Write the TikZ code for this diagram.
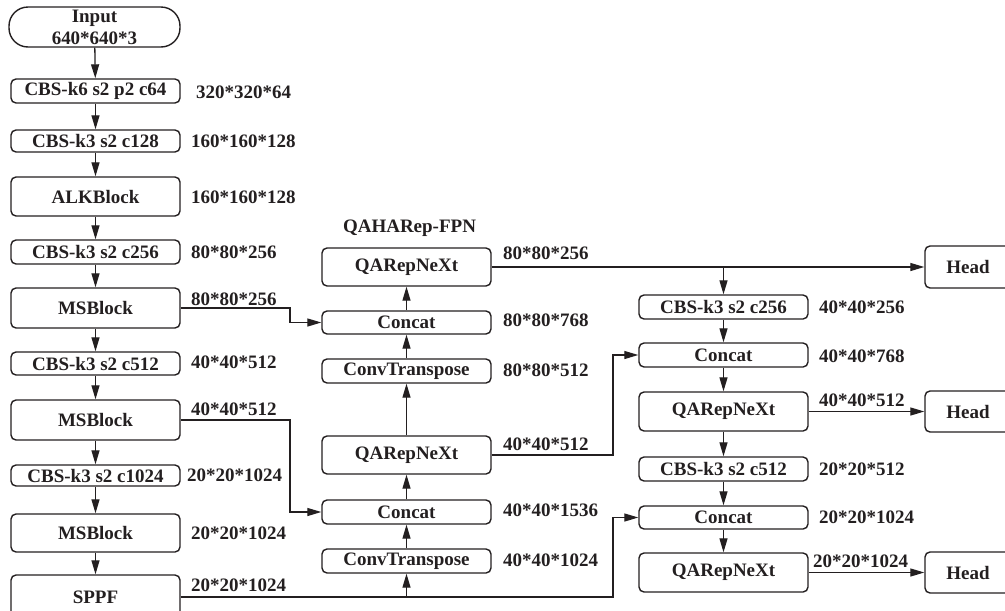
\documentclass[tikz,border=0pt]{standalone}
\usepackage{fontspec}
\setmainfont{Liberation Serif}
\usetikzlibrary{arrows.meta}
\definecolor{ink}{HTML}{231F20}
\newcommand\mybox[6]{%
  \node[blk, minimum width={#4-#2}, minimum height={#5-#3}] (#1) at ({(#2+#4)/2},{(#3+#5)/2}) {#6};}
\newcommand\mylbl[3]{\node[lbl] at (#1,#2) {#3};}
\begin{document}
\begin{tikzpicture}[x=1pt,y=-1pt,
  txt/.style={font=\fontsize{19}{22}\selectfont\bfseries, text=ink},
  blk/.style={draw=ink, line width=1.4pt, rounded corners=5pt, inner sep=0pt, txt},
  lbl/.style={anchor=west, inner sep=0pt, txt},
  arr/.style={draw=ink, line width=1.3pt, -{Triangle[length=14pt,width=8pt]}}]
\useasboundingbox (0,0) rectangle (1005,611);
\clip (0,0) rectangle (1005,611);
% left column
\node[blk, rounded corners=19pt, minimum width=171, minimum height=40, align=center] (in) at (94.5,27) {Input\\640*640*3};
\mybox{c1}{11}{79}{180}{103}{CBS-k6 s2 p2 c64}
\mybox{c2}{11}{130}{180}{152}{CBS-k3 s2 c128}
\mybox{alk}{11}{177}{180}{216}{ALKBlock}
\mybox{c3}{11}{240}{180}{264}{CBS-k3 s2 c256}
\mybox{ms1}{11}{288}{180}{328}{MSBlock}
\mybox{c4}{11}{352}{180}{375}{CBS-k3 s2 c512}
\mybox{ms2}{11}{400}{180}{440}{MSBlock}
\mybox{c5}{11}{465}{180}{486}{CBS-k3 s2 c1024}
\mybox{ms3}{11}{514}{180}{552}{MSBlock}
\mybox{sppf}{11}{575}{180}{619}{SPPF}
\mylbl{196}{92}{320*320*64}
\mylbl{191}{141}{160*160*128}
\mylbl{191}{197}{160*160*128}
\mylbl{191}{252}{80*80*256}
\mylbl{191}{299.5}{80*80*256}
\mylbl{191}{362}{40*40*512}
\mylbl{191}{409.5}{40*40*512}
\mylbl{187}{475}{20*20*1024}
\mylbl{191}{533.5}{20*20*1024}
\mylbl{191}{585.5}{20*20*1024}
% middle column
\node[txt, inner sep=0pt] (title) at (409.5,228) {QAHARep-FPN};
\mybox{q1}{322}{248}{491}{286}{QARepNeXt}
\mybox{cat1}{322}{311}{491}{334}{Concat}
\mybox{ct1}{322}{359}{491}{383}{ConvTranspose}
\mybox{q2}{322}{436}{491}{474}{QARepNeXt}
\mybox{cat2}{322}{500}{491}{524}{Concat}
\mybox{ct2}{322}{549}{491}{573}{ConvTranspose}
\mylbl{503}{253.5}{80*80*256}
\mylbl{503}{320.5}{80*80*768}
\mylbl{503}{370}{80*80*512}
\mylbl{503}{444}{40*40*512}
\mylbl{503}{510.5}{40*40*1536}
\mylbl{503}{560}{40*40*1024}
% right column
\mybox{rc1}{639}{295}{808}{319}{CBS-k3 s2 c256}
\mybox{rcat1}{639}{343}{808}{367}{Concat}
\mybox{rq1}{639}{392}{808}{431}{QARepNeXt}
\mybox{rc2}{639}{457}{808}{481}{CBS-k3 s2 c512}
\mybox{rcat2}{639}{506}{808}{529}{Concat}
\mybox{rq2}{639}{553}{808}{592}{QARepNeXt}
\mylbl{819}{307.5}{40*40*256}
\mylbl{819}{356.5}{40*40*768}
\mylbl{819}{400}{40*40*512}
\mylbl{819}{469}{20*20*512}
\mylbl{819}{517.5}{20*20*1024}
\mylbl{813}{561}{20*20*1024}
% heads
\mybox{h1}{925}{246}{1011}{288}{Head}
\mybox{h2}{925}{391}{1011}{432}{Head}
\mybox{h3}{925}{552}{1011}{593}{Head}
% helper x positions
\coordinate (k1) at (290,0);
\coordinate (k3) at (613,0);
% left column arrows
\draw[arr] (in) -- (c1);
\draw[arr] (c1) -- (c2);
\draw[arr] (c2) -- (alk);
\draw[arr] (alk) -- (c3);
\draw[arr] (c3) -- (ms1);
\draw[arr] (ms1) -- (c4);
\draw[arr] (c4) -- (ms2);
\draw[arr] (ms2) -- (c5);
\draw[arr] (c5) -- (ms3);
\draw[arr] (ms3) -- (sppf);
% middle column arrows (upward)
\draw[arr] (ct2) -- (cat2);
\draw[arr] (cat2) -- (q2);
\draw[arr] (q2) -- (ct1);
\draw[arr] (ct1) -- (cat1);
\draw[arr] (cat1) -- (q1);
% right column arrows
\draw[arr] (rc1) -- (rcat1);
\draw[arr] (rcat1) -- (rq1);
\draw[arr] (rq1) -- (rc2);
\draw[arr] (rc2) -- (rcat2);
\draw[arr] (rcat2) -- (rq2);
% cross connections
\draw[arr] (ms1.east) -- (ms1.east -| k1) |- (cat1.west);
\draw[arr] (ms2.east) -- (ms2.east -| k1) |- (cat2.west);
\draw[arr] (sppf.east) -- (sppf.east -| k3) |- (rcat2.west);
\draw[arr] (sppf.east -| ct2.south) -- (ct2.south);
\draw[arr] (q1.east) -- (q1.east -| h1.west);
\draw[arr] (q1.east -| rc1.north) -- (rc1.north);
\draw[arr] (q2.east) -- (q2.east -| k3) |- (rcat1.west);
\draw[arr] (rq1.east) -- (rq1.east -| h2.west);
\draw[arr] (rq2.east) -- (rq2.east -| h3.west);
\end{tikzpicture}
\end{document}
